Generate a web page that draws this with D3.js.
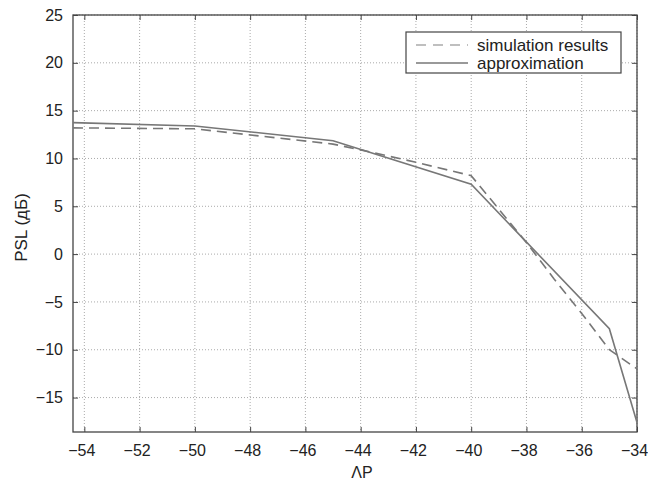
<!DOCTYPE html>
<html>
<head>
<meta charset="utf-8">
<script src="https://cdn.jsdelivr.net/npm/d3@7"></script>
<style>
  body { margin: 0; background: #fff; }
  text { font-family: "Liberation Sans", Arial, sans-serif; fill: #222; }
</style>
</head>
<body>
<div id="chart"></div>
<script>
// data
const xTicks = [-54, -52, -50, -48, -46, -44, -42, -40, -38, -36, -34];
const yTicks = [-15, -10, -5, 0, 5, 10, 15, 20, 25];

const simX = [-54.41, -50, -45, -44, -42, -40, -39, -38, -37, -36, -35, -34];
const simY = [13.2, 13.1, 11.5, 10.9, 9.6, 8.2, 4.7, 1.2, -2.6, -6.2, -10, -12];

const apxX = [-54.41, -50, -45, -40, -35, -34];
const apxY = [13.75, 13.4, 11.85, 7.3, -7.8, -17.6];

const legendLabels = ["simulation results", "approximation"];

const width = 648, height = 490;
const margin = { top: 15, right: 11, bottom: 58, left: 73 };
const innerW = width - margin.left - margin.right;
const innerH = height - margin.top - margin.bottom;

const svg = d3.select("#chart").append("svg")
    .attr("width", width)
    .attr("height", height);

const g = svg.append("g")
    .attr("transform", `translate(${margin.left},${margin.top})`);

const x = d3.scaleLinear().domain([-54.41, -34]).range([0, innerW]);
const y = d3.scaleLinear().domain([-18.6, 25]).range([innerH, 0]);

const fmt = d => d < 0 ? "\u2212" + Math.abs(d) : String(d);

// grid
g.append("g").selectAll("line").data(xTicks).join("line")
    .attr("x1", d => x(d)).attr("x2", d => x(d))
    .attr("y1", 0).attr("y2", innerH)
    .attr("stroke", "#aaa").attr("stroke-width", 1)
    .attr("stroke-dasharray", "1,2");
g.append("g").selectAll("line").data(yTicks).join("line")
    .attr("y1", d => y(d)).attr("y2", d => y(d))
    .attr("x1", 0).attr("x2", innerW)
    .attr("stroke", "#aaa").attr("stroke-width", 1)
    .attr("stroke-dasharray", "1,2");

// axes (ticks inside, all four sides)
const axStyle = sel => {
    sel.select(".domain").remove();
    sel.selectAll(".tick line").attr("stroke", "#444");
    sel.selectAll(".tick text")
        .style("font-family", "'Liberation Sans', Arial, sans-serif")
        .style("font-size", "16px").attr("fill", "#222");
};

g.append("g").attr("transform", `translate(0,${innerH})`)
    .call(d3.axisBottom(x).tickValues(xTicks).tickFormat(fmt).tickSize(-5).tickPadding(12.5))
    .call(axStyle)
    .call(a => a.selectAll(".tick text").attr("dx", "-3"));
g.append("g")
    .call(d3.axisTop(x).tickValues(xTicks).tickFormat("").tickSize(-5))
    .call(axStyle);
g.append("g")
    .call(d3.axisLeft(y).tickValues(yTicks).tickFormat(fmt).tickSize(-5).tickPadding(10))
    .call(axStyle);
g.append("g").attr("transform", `translate(${innerW},0)`)
    .call(d3.axisRight(y).tickValues(yTicks).tickFormat("").tickSize(-5))
    .call(axStyle);

// box
g.append("rect")
    .attr("width", innerW).attr("height", innerH)
    .attr("fill", "none").attr("stroke", "#444").attr("stroke-width", 1.3);

// lines
const line = d3.line().x(d => x(d[0])).y(d => y(d[1]));

g.append("path")
    .datum(simX.map((v, i) => [v, simY[i]]))
    .attr("d", line)
    .attr("fill", "none").attr("stroke", "#777").attr("stroke-width", 1.6)
    .attr("stroke-dasharray", "10,6");

g.append("path")
    .datum(apxX.map((v, i) => [v, apxY[i]]))
    .attr("d", line)
    .attr("fill", "none").attr("stroke", "#777").attr("stroke-width", 1.6);

// legend
const lg = svg.append("g").attr("transform", "translate(406,32)");
lg.append("rect").attr("width", 215).attr("height", 41)
    .attr("fill", "#fff").attr("stroke", "#444").attr("stroke-width", 1.2);
legendLabels.forEach((lab, i) => {
    const yy = 13 + i * 18;
    lg.append("line")
        .attr("x1", 10).attr("x2", 62).attr("y1", yy).attr("y2", yy)
        .attr("stroke", i === 0 ? "#aaa" : "#777").attr("stroke-width", 1.5)
        .attr("stroke-dasharray", i === 0 ? "10,7" : null);
    lg.append("text")
        .attr("x", 71).attr("y", yy + 6)
        .style("font-size", "17px")
        .text(lab);
});

// axis labels
svg.append("text")
    .attr("x", 362).attr("y", 478)
    .attr("text-anchor", "middle")
    .style("font-size", "16px")
    .text("ΛP");

svg.append("text")
    .attr("transform", `translate(27,${margin.top + innerH / 2 + 4}) rotate(-90)`)
    .attr("text-anchor", "middle")
    .style("font-size", "17px")
    .text("PSL (дБ)");
</script>
</body>
</html>
